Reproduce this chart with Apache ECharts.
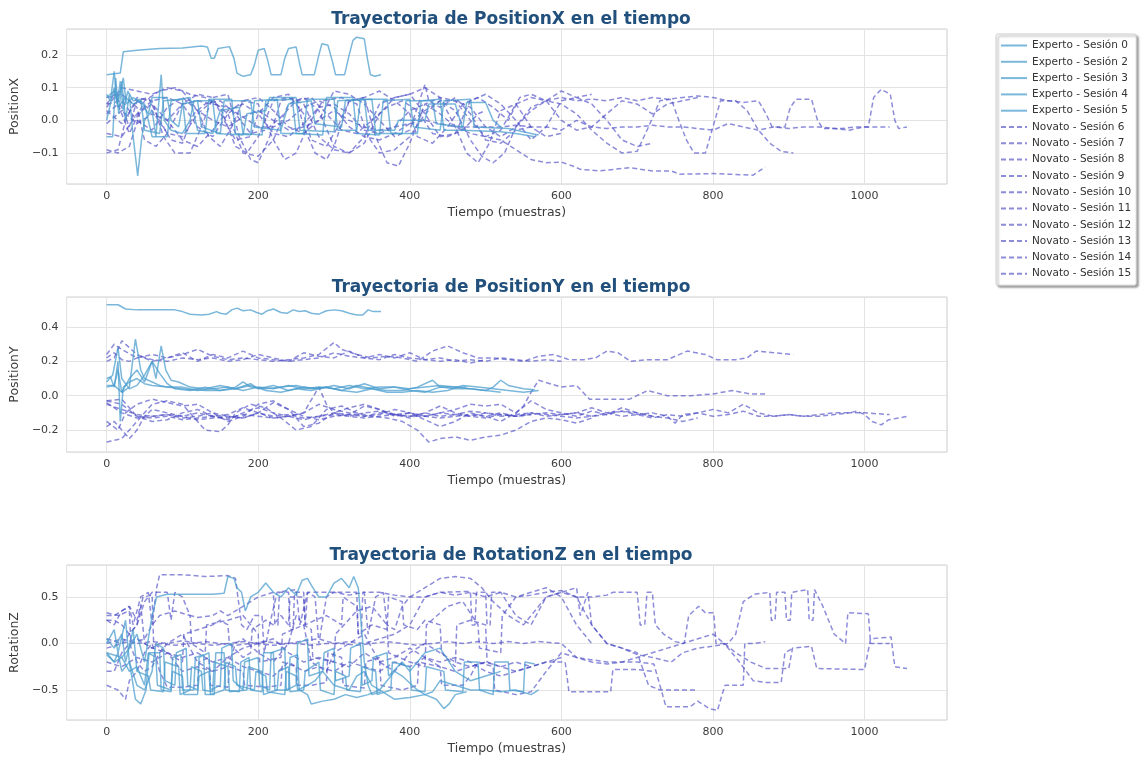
<!DOCTYPE html>
<html><head><meta charset="utf-8">
<script src="https://cdn.jsdelivr.net/npm/echarts@6/dist/echarts.min.js"></script>
<style>html,body{margin:0;padding:0;background:#fff}#c{width:1141px;height:761px}</style>
</head><body><div id="c"></div>
<script>
// ---------- labels ----------
const sessionNames = ['Experto - Sesión 0','Experto - Sesión 2','Experto - Sesión 3','Experto - Sesión 4','Experto - Sesión 5',
 'Novato - Sesión 6','Novato - Sesión 7','Novato - Sesión 8','Novato - Sesión 9','Novato - Sesión 10',
 'Novato - Sesión 11','Novato - Sesión 12','Novato - Sesión 13','Novato - Sesión 14','Novato - Sesión 15'];
const metricNames = ['PositionX','PositionY','RotationZ'];
const xTickLabels = [0,200,400,600,800,1000];

// ---------- PositionX ----------
const px_E0=[[0,0.14],[18,0.145],[22,0.21],[40,0.215],[70,0.22],[100,0.222],[125,0.228],[133,0.225],[138,0.19],[142,0.19],[147,0.22],[162,0.226],[168,0.19],[172,0.145],[180,0.135],[190,0.14],[195,0.17],[200,0.215],[208,0.22],[213,0.18],[217,0.14],[230,0.14],[235,0.19],[240,0.22],[250,0.225],[255,0.17],[258,0.14],[274,0.14],[280,0.2],[284,0.235],[292,0.23],[298,0.18],[302,0.14],[314,0.14],[320,0.2],[325,0.245],[330,0.255],[340,0.25],[344,0.19],[348,0.14],[354,0.135],[362,0.14]];
const px_E2=[[0,0.08],[5,0.06],[10,0.15],[14,0.05],[18,0.12],[22,0.03],[28,0.09],[35,0.06],[45,0.065],[50,-0.03],[70,-0.04],[75,0.06],[100,0.065],[105,-0.04],[130,-0.04],[135,0.065],[165,0.065],[170,-0.04],[190,-0.045],[195,0.06],[225,0.065],[230,-0.04],[260,-0.04],[265,0.065],[300,0.065],[305,-0.03],[330,-0.03],[335,0.065],[370,0.065],[375,-0.04],[410,-0.04],[415,0.06],[440,0.065],[445,-0.03],[475,-0.03]];
const px_E3=[[0,-0.05],[8,-0.05],[12,0.13],[16,0.02],[20,0.12],[25,0.0],[30,0.08],[35,-0.05],[41,-0.17],[46,-0.06],[50,0.0],[60,0.03],[65,-0.05],[72,0.14],[76,0.0],[85,-0.03],[100,-0.04],[110,0.0],[115,0.06],[140,0.06],[145,-0.04],[180,-0.045],[185,0.02],[210,0.03],[215,0.07],[250,0.07],[255,-0.03],[300,-0.035],[305,0.06],[340,0.065],[345,-0.03],[380,-0.03],[385,0.0],[420,0.0],[425,0.05],[460,0.05],[470,-0.03],[520,-0.035],[540,-0.04],[565,-0.05]];
const px_E4=[[0,0.0],[10,0.1],[15,0.04],[25,0.07],[35,0.05],[45,0.06],[55,0.02],[60,0.07],[80,0.07],[85,0.0],[95,-0.02],[100,0.05],[120,0.06],[125,-0.02],[150,-0.04],[155,0.06],[190,0.06],[195,-0.02],[230,-0.03],[240,0.05],[270,0.06],[275,-0.01],[310,-0.02],[315,0.06],[350,0.065],[355,-0.04],[390,-0.04],[395,0.06],[430,0.06],[435,-0.01],[470,-0.02],[475,0.055],[500,0.055],[510,0.0],[520,-0.02]];
const px_E5=[[0,0.07],[10,0.09],[15,0.06],[22,0.13],[26,0.05],[35,0.07],[50,0.05],[60,-0.05],[80,-0.05],[85,0.06],[110,0.07],[120,-0.03],[140,-0.04],[150,0.03],[175,0.04],[180,-0.04],[205,-0.045],[210,0.06],[245,0.065],[250,-0.04],[285,-0.045],[290,0.07],[325,0.07],[330,-0.04],[360,-0.045],[365,0.06],[400,0.065],[405,-0.02],[440,-0.03],[445,0.06],[480,0.065],[485,-0.02],[530,-0.025],[560,-0.04],[570,-0.045]];
const px_N6=[[0,0.02],[15,0.05],[30,-0.04],[50,0.06],[70,0.09],[90,0.1],[110,0.08],[130,0.07],[150,0.04],[170,-0.08],[185,-0.1],[200,-0.05],[220,0.06],[240,0.07],[260,0.05],[280,-0.05],[300,-0.09],[320,-0.1],[340,-0.07],[360,0.02],[380,0.07],[400,0.08],[420,0.1],[440,0.07],[460,0.06],[480,0.04],[500,-0.02],[520,-0.05],[540,-0.02],[560,0.03],[580,0.06],[600,0.07],[620,0.06],[640,0.065],[660,0.06],[680,0.07],[700,0.06],[720,0.07],[740,0.065],[760,0.07],[780,0.075],[800,0.07],[820,0.06],[840,0.055],[860,0.06],[870,0.02],[878,-0.02],[895,-0.02],[902,0.04],[910,0.065],[930,0.065],[938,0.0],[945,-0.025],[970,-0.025],[990,-0.02],[1005,-0.02],[1012,0.07],[1022,0.095],[1034,0.08],[1040,0.0],[1045,-0.025],[1056,-0.02]];
const px_N7=[[0,-0.09],[15,-0.1],[30,-0.08],[45,0.03],[60,0.06],[80,0.07],[100,0.05],[120,-0.02],[140,-0.05],[160,0.02],[180,0.06],[200,0.05],[220,-0.06],[235,-0.12],[250,-0.1],[265,-0.02],[285,0.06],[310,0.07],[330,0.05],[345,-0.05],[360,-0.1],[380,-0.09],[400,-0.05],[420,0.02],[440,0.06],[460,0.03],[480,-0.06],[495,-0.11],[510,-0.13],[525,-0.1],[540,-0.02],[560,0.04],[580,0.06],[600,0.05],[620,0.02],[640,-0.03],[660,-0.07],[680,-0.1],[700,-0.095],[715,-0.02],[730,0.06],[745,0.065],[755,0.0],[765,-0.06],[775,-0.1],[790,-0.1],[800,-0.02],[810,0.06],[830,0.06],[845,0.03],[860,-0.03],[875,-0.07],[890,-0.095],[906,-0.1]];
const px_N8=[[0,-0.04],[20,-0.05],[40,0.02],[60,0.05],[80,0.0],[100,-0.06],[120,-0.08],[140,-0.03],[160,0.03],[180,0.05],[200,0.02],[220,-0.04],[240,-0.05],[260,-0.01],[280,0.04],[300,0.05],[320,0.02],[340,-0.03],[360,-0.04],[380,-0.02],[400,0.03],[420,0.05],[440,0.02],[460,-0.02],[480,-0.04],[500,-0.05],[520,-0.06],[540,-0.09],[560,-0.12],[580,-0.13],[600,-0.128],[615,-0.14],[625,-0.15],[650,-0.155],[690,-0.145],[720,-0.155],[745,-0.155],[756,-0.165],[800,-0.163],[853,-0.168],[869,-0.143]];
const px_N9=[[0,0.05],[20,0.06],[40,0.0],[60,-0.03],[80,0.04],[100,0.07],[120,0.03],[140,0.0],[160,-0.02],[180,0.01],[200,0.03],[220,0.0],[240,-0.03],[260,-0.02],[280,0.0],[300,0.03],[320,0.0],[340,-0.02],[360,-0.03],[380,-0.02],[400,-0.01],[420,0.0],[440,-0.01],[460,-0.02],[480,-0.02],[500,-0.02],[520,-0.02],[540,-0.015],[560,-0.02],[580,-0.02],[600,-0.03],[620,0.0],[640,-0.02],[660,-0.025],[680,-0.02],[700,-0.02],[720,-0.015],[740,-0.02],[760,-0.02],[780,-0.025],[800,-0.03],[820,-0.01],[840,-0.02],[860,-0.03],[880,-0.02],[900,-0.025],[920,-0.02],[940,-0.02],[960,-0.025],[980,-0.03],[1000,-0.02],[1033,-0.02]];
const px_N10=[[0,0.07],[20,0.08],[40,0.04],[50,-0.06],[65,-0.08],[80,-0.04],[100,0.05],[120,0.08],[140,0.07],[155,0.0],[170,-0.06],[190,-0.05],[200,0.02],[220,0.07],[240,0.08],[260,0.02],[270,-0.06],[290,-0.08],[305,-0.02],[320,0.06],[340,0.07],[360,0.09],[380,0.06],[400,0.02],[410,-0.05],[430,-0.07],[450,-0.02],[470,0.05],[490,0.07],[510,0.04],[530,0.0],[545,0.07],[560,0.08],[580,0.06],[600,0.09],[620,0.07],[640,0.08]];
const px_N11=[[0,-0.1],[15,-0.09],[25,0.0],[40,0.07],[60,0.06],[75,-0.05],[90,-0.1],[110,-0.1],[125,-0.02],[140,0.07],[160,0.08],[175,-0.05],[190,-0.12],[200,-0.13],[215,-0.05],[230,0.06],[250,0.07],[260,-0.02],[275,-0.1],[290,-0.12],[300,-0.08],[320,0.06],[340,0.07],[355,-0.05],[370,-0.13],[385,-0.14],[400,-0.07],[420,0.05],[440,0.07],[460,-0.02],[475,-0.1],[490,-0.13],[505,-0.07],[520,0.03],[540,0.05],[560,-0.02],[580,-0.05],[600,-0.04]];
const px_N12=[[0,0.04],[20,0.1],[40,0.09],[60,0.08],[80,0.1],[100,0.09],[120,0.03],[135,-0.05],[150,-0.08],[165,-0.02],[180,0.06],[200,0.07],[220,0.03],[240,-0.02],[260,-0.04],[280,0.0],[300,0.09],[320,0.08],[340,0.05],[360,0.0],[380,-0.05],[400,-0.03],[420,0.11],[425,0.06],[440,0.04],[460,0.07],[480,0.02],[500,-0.06],[520,-0.07],[540,-0.03],[560,-0.02]];
const px_N13=[[0,0.03],[20,-0.01],[40,0.06],[60,0.03],[80,-0.04],[100,-0.05],[120,0.02],[140,0.06],[160,0.02],[180,-0.1],[200,-0.11],[220,-0.06],[240,0.05],[260,0.07],[280,0.03],[300,-0.08],[320,-0.1],[340,-0.05],[360,0.05],[380,0.07],[400,0.08],[420,0.02],[440,-0.05],[460,-0.04],[480,0.06],[500,0.08],[520,0.05],[540,0.0],[560,-0.06],[580,-0.02],[600,0.06],[620,0.07],[640,0.05],[660,0.0],[680,-0.06],[700,-0.08],[720,-0.07]];
const px_N14=[[0,-0.01],[20,0.03],[40,-0.01],[60,0.02],[80,0.0],[100,0.05],[120,0.06],[140,0.05],[160,0.04],[180,0.01],[200,-0.02],[220,-0.02],[240,0.0],[260,0.04],[280,0.06],[300,0.04],[320,-0.02],[340,-0.05],[360,-0.06],[380,-0.04],[400,-0.01],[420,0.03],[440,0.06],[460,0.06],[480,0.0],[500,-0.05],[520,-0.03],[540,0.05],[560,0.07],[580,0.06],[600,0.0],[620,-0.03],[640,-0.02],[660,0.02],[680,0.06],[700,0.05],[720,0.02],[740,0.05],[760,0.06],[780,0.07]];
const px_N15=[[0,0.05],[10,0.08],[20,0.04],[30,-0.02],[40,0.06],[55,0.07],[70,0.0],[85,-0.06],[100,-0.07],[115,0.02],[130,0.05],[150,0.06],[170,0.02],[190,-0.04],[210,-0.03],[230,0.01],[250,0.06],[270,0.07],[290,0.02],[310,-0.03],[330,-0.04],[350,0.0],[370,0.04],[390,0.06],[410,0.03],[430,-0.04],[450,-0.05],[470,-0.03],[490,0.02],[500,0.03]];

// ---------- PositionY ----------
const py_E0=[[0,0.53],[15,0.53],[25,0.505],[40,0.5],[90,0.5],[100,0.49],[110,0.475],[125,0.47],[135,0.475],[145,0.49],[150,0.48],[158,0.475],[165,0.5],[172,0.51],[180,0.495],[190,0.5],[198,0.485],[205,0.475],[212,0.495],[220,0.505],[230,0.485],[238,0.48],[246,0.5],[254,0.49],[262,0.495],[270,0.48],[280,0.475],[290,0.495],[300,0.5],[310,0.495],[320,0.48],[330,0.47],[338,0.47],[345,0.5],[352,0.49],[362,0.49]];
const py_E2=[[0,0.1],[5,0.11],[10,0.05],[15,0.2],[18,-0.15],[22,0.05],[30,0.08],[40,0.1],[50,0.07],[60,0.06],[80,0.05],[100,0.04],[120,0.03],[140,0.04],[160,0.05],[180,0.03],[200,0.05],[220,0.04],[240,0.06],[260,0.04],[280,0.05],[300,0.04],[320,0.06],[340,0.04],[360,0.05],[380,0.05],[400,0.04],[420,0.05],[440,0.06],[460,0.05],[475,0.05]];
const py_E3=[[0,0.06],[10,0.06],[15,0.15],[20,0.02],[30,0.05],[38,0.33],[45,0.15],[50,0.1],[60,0.08],[70,0.06],[80,0.05],[100,0.05],[110,0.04],[130,0.03],[150,0.03],[170,0.05],[180,0.08],[190,0.05],[210,0.04],[230,0.05],[250,0.06],[270,0.04],[290,0.05],[310,0.03],[330,0.06],[350,0.04],[370,0.03],[390,0.03],[410,0.05],[430,0.09],[440,0.05],[460,0.05],[480,0.04],[500,0.03],[510,0.05],[520,0.09],[530,0.06],[550,0.04],[565,0.035]];
const py_E4=[[0,0.08],[8,0.12],[15,0.28],[20,0.1],[30,0.04],[40,0.06],[50,0.12],[60,0.2],[65,0.1],[72,0.29],[78,0.15],[85,0.09],[95,0.08],[110,0.05],[130,0.04],[150,0.06],[170,0.04],[190,0.07],[200,0.04],[220,0.06],[240,0.03],[260,0.05],[280,0.04],[300,0.06],[320,0.04],[340,0.07],[360,0.04],[380,0.05],[400,0.03],[420,0.02],[440,0.05],[460,0.04],[480,0.04],[500,0.03],[520,0.02]];
const py_E5=[[0,0.05],[10,0.06],[20,0.02],[30,0.1],[40,0.15],[50,0.08],[60,0.2],[70,0.13],[80,0.07],[90,0.04],[110,0.03],[130,0.05],[150,0.03],[170,0.04],[190,0.06],[210,0.03],[230,0.02],[250,0.04],[270,0.03],[290,0.05],[310,0.03],[330,0.02],[350,0.04],[370,0.02],[390,0.02],[410,0.03],[430,0.02],[450,0.03],[470,0.06],[490,0.05],[510,0.04],[530,0.03],[550,0.02],[570,0.03]];
const py_N6=[[0,-0.04],[20,-0.1],[40,-0.13],[60,-0.12],[80,-0.11],[100,-0.13],[120,-0.12],[140,-0.1],[160,-0.12],[180,-0.13],[200,-0.1],[220,-0.12],[240,-0.11],[260,-0.13],[280,-0.12],[300,-0.1],[320,-0.11],[340,-0.12],[360,-0.1],[380,-0.11],[400,-0.12],[420,-0.1],[440,-0.12],[460,-0.11],[480,-0.12],[500,-0.1],[520,-0.11],[540,-0.12],[560,-0.1],[580,-0.11],[600,-0.12],[620,-0.13],[640,-0.12],[660,-0.1],[680,-0.12],[700,-0.11],[720,-0.13],[740,-0.11],[760,-0.12],[780,-0.1],[800,-0.12],[820,-0.11],[840,-0.09],[860,-0.12],[880,-0.12],[900,-0.11],[920,-0.12],[940,-0.11],[960,-0.1],[980,-0.1],[990,-0.09],[1000,-0.11],[1010,-0.15],[1022,-0.17],[1032,-0.14],[1045,-0.13],[1056,-0.12]];
const py_N7=[[0,0.24],[10,0.3],[20,0.27],[40,0.22],[60,0.24],[80,0.22],[100,0.24],[120,0.27],[140,0.23],[160,0.21],[180,0.22],[200,0.21],[220,0.2],[240,0.21],[260,0.22],[280,0.24],[300,0.31],[310,0.27],[330,0.24],[350,0.22],[370,0.23],[390,0.22],[410,0.2],[430,0.26],[450,0.29],[470,0.25],[490,0.22],[510,0.22],[530,0.21],[550,0.2],[570,0.23],[590,0.24],[610,0.21],[630,0.21],[645,0.22],[660,0.26],[675,0.25],[691,0.2],[714,0.21],[740,0.21],[766,0.26],[790,0.24],[805,0.21],[830,0.21],[845,0.22],[857,0.26],[880,0.25],[906,0.24]];
const py_N8=[[0,-0.03],[20,-0.05],[40,-0.12],[60,-0.15],[80,-0.14],[100,-0.1],[120,-0.08],[140,-0.12],[160,-0.14],[180,-0.1],[200,-0.07],[220,-0.1],[240,-0.12],[260,-0.1],[280,-0.05],[300,-0.08],[320,-0.1],[340,-0.12],[360,-0.11],[380,-0.08],[400,-0.1],[420,-0.12],[440,-0.1],[460,-0.08],[480,-0.05],[500,-0.06],[520,-0.05],[540,-0.1],[550,-0.06],[560,0.02],[570,0.09],[585,0.07],[600,0.05],[620,0.06],[637,-0.02],[660,-0.02],[690,-0.02],[714,0.03],[740,0.0],[770,0.0],[800,0.01],[825,0.03],[850,0.01],[869,0.01]];
const py_N9=[[0,-0.03],[20,-0.02],[40,-0.12],[60,-0.13],[80,-0.12],[100,-0.14],[120,-0.13],[140,-0.12],[160,-0.13],[180,-0.11],[200,-0.12],[220,-0.13],[240,-0.12],[260,-0.14],[280,-0.12],[300,-0.11],[320,-0.12],[340,-0.13],[360,-0.12],[380,-0.11],[400,-0.12],[420,-0.12],[440,-0.13],[460,-0.12],[480,-0.11],[500,-0.12],[520,-0.1],[540,-0.12],[560,-0.11],[580,-0.1],[600,-0.11],[620,-0.1],[640,-0.07],[660,-0.1],[680,-0.09],[700,-0.11],[720,-0.1],[740,-0.12],[750,-0.16],[760,-0.11],[780,-0.1],[800,-0.08],[820,-0.1],[840,-0.05],[860,-0.1],[880,-0.12],[900,-0.11],[920,-0.12],[940,-0.12],[960,-0.11],[980,-0.1],[1000,-0.1],[1033,-0.11]];
const py_N10=[[0,-0.27],[20,-0.25],[30,-0.2],[40,-0.15],[50,-0.1],[60,-0.05],[80,-0.03],[100,-0.05],[120,-0.15],[130,-0.2],[150,-0.21],[160,-0.17],[170,-0.1],[190,-0.05],[210,-0.07],[230,-0.13],[250,-0.2],[270,-0.18],[290,-0.08],[310,-0.06],[330,-0.1],[350,-0.12],[370,-0.13],[390,-0.15],[410,-0.2],[425,-0.27],[440,-0.25],[460,-0.24],[480,-0.26],[500,-0.24],[520,-0.23],[540,-0.2],[560,-0.15],[580,-0.13],[600,-0.14],[620,-0.16],[640,-0.13]];
const py_N11=[[0,0.2],[10,0.22],[20,0.32],[30,0.28],[40,0.24],[50,0.22],[60,0.2],[80,0.22],[100,0.25],[120,0.2],[140,0.24],[160,0.22],[180,0.26],[200,0.22],[220,0.21],[240,0.2],[260,0.25],[280,0.23],[300,0.22],[320,0.26],[340,0.22],[360,0.24],[380,0.22],[400,0.25],[420,0.21],[440,0.22],[460,0.2],[480,0.21],[500,0.2],[520,0.22],[540,0.21],[560,0.2],[580,0.21],[600,0.2]];
const py_N12=[[0,-0.18],[10,-0.15],[20,-0.2],[30,-0.25],[40,-0.2],[50,-0.12],[60,-0.08],[80,-0.1],[100,-0.12],[120,-0.14],[140,-0.13],[160,-0.12],[180,-0.13],[200,-0.1],[220,-0.04],[240,-0.08],[260,-0.12],[280,-0.14],[300,-0.12],[320,-0.11],[340,-0.06],[360,-0.08],[380,-0.11],[400,-0.13],[420,-0.1],[440,-0.06],[460,-0.1],[480,-0.12],[500,-0.13],[520,-0.11],[540,-0.12],[560,-0.11]];
const py_N13=[[0,-0.15],[15,-0.2],[25,-0.1],[40,-0.05],[60,-0.02],[80,-0.04],[100,-0.06],[120,-0.05],[140,-0.1],[160,-0.15],[180,-0.12],[200,-0.05],[220,-0.03],[240,-0.08],[260,-0.18],[280,-0.16],[300,-0.1],[320,-0.07],[340,-0.05],[360,-0.08],[380,-0.12],[400,-0.1],[420,-0.14],[440,-0.18],[460,-0.15],[480,-0.1],[500,-0.12],[520,-0.15],[540,-0.1],[560,-0.03],[580,-0.08],[600,-0.1],[620,-0.12],[640,-0.09],[660,-0.11],[680,-0.07],[700,-0.1],[720,-0.12]];
const py_N14=[[0,-0.05],[20,-0.08],[40,-0.11],[60,-0.12],[80,-0.11],[100,-0.12],[120,-0.1],[140,-0.12],[160,-0.11],[180,-0.07],[200,-0.1],[220,-0.13],[240,-0.12],[260,-0.1],[280,0.05],[290,-0.05],[300,-0.1],[320,-0.12],[340,-0.1],[360,-0.09],[380,-0.11],[400,-0.1],[420,-0.12],[440,-0.1],[460,-0.11],[480,-0.09],[500,-0.1],[520,-0.12],[540,-0.11],[560,-0.1],[580,-0.12],[600,-0.11],[620,-0.1],[640,-0.12],[660,-0.11],[680,-0.09],[700,-0.1],[720,-0.12],[740,-0.13],[760,-0.15],[780,-0.13]];
const py_N15=[[0,0.22],[10,0.25],[20,0.21],[30,0.2],[45,0.23],[60,0.21],[80,0.2],[100,0.22],[120,0.21],[140,0.22],[160,0.2],[180,0.21],[200,0.24],[220,0.22],[240,0.2],[260,0.21],[280,0.22],[300,0.25],[320,0.23],[340,0.22],[360,0.21],[380,0.24],[400,0.22],[420,0.21],[440,0.2],[460,0.21],[480,0.19],[500,0.21]];

// ---------- RotationZ ----------
const rz_E0=[[0,-0.1],[20,-0.15],[30,-0.05],[40,0.1],[50,-0.2],[60,0.3],[66,0.5],[80,0.53],[100,0.53],[120,0.53],[140,0.53],[155,0.54],[160,0.72],[168,0.7],[172,0.6],[178,0.55],[183,0.35],[190,0.5],[200,0.55],[210,0.65],[220,0.55],[230,0.5],[240,0.6],[250,0.52],[258,0.68],[265,0.7],[272,0.6],[280,0.5],[290,0.5],[300,0.65],[310,0.7],[320,0.6],[326,0.72],[332,0.6],[336,0.2],[340,-0.2],[345,-0.45],[350,-0.55],[362,-0.52]];
const rz_E2=[[0,-0.1],[10,-0.2],[15,-0.1],[20,-0.3],[30,-0.2],[38,-0.6],[45,-0.65],[52,-0.5],[56,-0.1],[70,-0.1],[72,-0.5],[85,-0.52],[87,-0.15],[98,-0.12],[100,-0.5],[115,-0.5],[117,-0.15],[128,-0.12],[130,-0.55],[142,-0.55],[144,-0.1],[155,-0.1],[157,-0.5],[175,-0.52],[177,-0.2],[188,-0.15],[190,-0.5],[205,-0.52],[207,-0.1],[220,-0.1],[222,-0.5],[240,-0.5],[242,-0.15],[252,-0.12],[254,-0.5],[265,-0.55],[270,-0.65],[285,-0.62],[300,-0.6],[315,-0.55],[330,-0.58],[345,-0.55],[360,-0.5],[380,-0.6],[400,-0.58],[420,-0.55],[435,-0.6],[445,-0.7],[452,-0.65],[460,-0.55],[475,-0.52]];
const rz_E3=[[0,0.05],[10,-0.05],[20,0.1],[25,-0.2],[35,0.15],[40,-0.3],[55,-0.35],[58,-0.5],[75,-0.52],[77,-0.2],[95,-0.25],[97,-0.55],[110,-0.5],[112,-0.25],[125,-0.3],[127,-0.5],[140,-0.52],[142,-0.2],[160,-0.25],[162,-0.52],[185,-0.5],[187,-0.25],[205,-0.3],[207,-0.55],[225,-0.5],[227,-0.3],[240,-0.25],[242,-0.52],[260,-0.5],[262,-0.3],[280,-0.2],[282,-0.5],[300,-0.55],[302,-0.3],[315,-0.35],[317,-0.5],[335,-0.52],[337,-0.25],[355,-0.3],[357,-0.55],[375,-0.5],[377,-0.2],[400,-0.25],[402,-0.5],[420,-0.52],[422,-0.25],[445,-0.3],[447,-0.5],[470,-0.52],[472,-0.2],[490,-0.2],[492,-0.5],[510,-0.55],[512,-0.2],[530,-0.2],[532,-0.5],[550,-0.52],[552,-0.2],[565,-0.22]];
const rz_E4=[[0,0.0],[10,0.15],[15,-0.1],[25,0.25],[30,-0.2],[40,-0.45],[50,-0.5],[60,-0.3],[65,0.0],[75,-0.05],[77,-0.4],[90,-0.45],[92,-0.1],[105,-0.05],[107,-0.45],[120,-0.5],[122,-0.15],[135,-0.1],[137,-0.5],[150,-0.45],[152,-0.05],[165,0.0],[167,-0.4],[180,-0.5],[182,-0.2],[200,-0.15],[202,-0.45],[215,-0.5],[217,-0.1],[235,-0.05],[237,-0.5],[250,-0.45],[252,0.0],[265,0.05],[267,-0.35],[285,-0.3],[287,-0.1],[300,-0.05],[302,-0.4],[320,-0.35],[322,-0.05],[335,0.0],[337,-0.45],[350,-0.4],[352,-0.15],[370,-0.1],[372,-0.35],[390,-0.2],[400,-0.3],[420,-0.1],[440,-0.05],[460,-0.3],[480,-0.4],[500,-0.35],[520,-0.3]];
const rz_E5=[[0,-0.12],[10,-0.2],[20,-0.15],[30,-0.3],[40,-0.25],[50,-0.45],[55,-0.1],[65,-0.15],[67,-0.45],[85,-0.5],[87,-0.3],[100,-0.35],[102,-0.55],[120,-0.55],[122,-0.35],[135,-0.3],[137,-0.55],[155,-0.5],[157,-0.2],[170,-0.25],[172,-0.45],[195,-0.5],[197,-0.3],[210,-0.35],[212,-0.52],[235,-0.55],[237,-0.3],[250,-0.35],[252,-0.5],[265,-0.45],[275,-0.4],[285,-0.3],[300,-0.45],[320,-0.5],[330,-0.35],[340,-0.3],[350,-0.45],[360,-0.5],[370,-0.4],[380,-0.3],[390,-0.35],[410,-0.5],[420,-0.55],[430,-0.52],[440,-0.4],[460,-0.45],[480,-0.5],[500,-0.5],[520,-0.52],[540,-0.5],[560,-0.55],[570,-0.5]];
const rz_N6=[[0,0.3],[10,0.3],[20,0.35],[30,0.4],[40,0.25],[45,0.42],[50,0.0],[60,-0.05],[70,0.0],[90,-0.02],[110,0.0],[130,0.02],[150,0.0],[170,-0.02],[190,0.0],[210,0.02],[230,0.0],[250,0.0],[270,-0.02],[290,0.0],[310,0.0],[330,-0.02],[350,0.0],[370,0.02],[390,0.0],[410,-0.02],[430,0.0],[450,0.02],[470,0.0],[490,0.02],[510,0.0],[530,0.02],[550,0.0],[570,0.02],[600,0.0],[620,-0.15],[640,-0.2],[660,-0.22],[680,-0.2],[700,-0.15],[720,-0.1],[740,-0.05],[760,0.0],[780,0.05],[800,0.1],[815,0.0],[830,-0.1],[850,-0.2],[870,-0.27],[900,-0.27],[905,-0.05],[930,-0.03],[937,-0.27],[1000,-0.28],[1008,0.05],[1035,0.07],[1040,-0.25],[1056,-0.27]];
const rz_N7=[[0,0.25],[10,0.2],[20,0.35],[30,0.4],[35,0.2],[45,0.5],[55,0.55],[60,0.2],[66,0.6],[70,0.74],[100,0.74],[130,0.72],[160,0.73],[170,0.7],[178,0.2],[185,0.15],[195,0.3],[205,0.3],[208,-0.1],[215,0.2],[225,0.55],[250,0.58],[255,0.2],[265,0.55],[275,0.5],[280,0.0],[290,0.5],[300,0.55],[320,0.52],[340,0.55],[345,0.1],[355,0.5],[365,0.55],[370,0.2],[380,0.15],[390,0.4],[400,0.5],[420,0.6],[430,0.65],[440,0.7],[460,0.72],[480,0.7],[495,0.6],[510,0.45],[530,0.3],[550,0.2],[570,0.4],[580,0.5],[600,0.55],[620,0.5],[640,0.5],[660,0.52],[668,0.55],[700,0.55],[704,0.2],[710,0.2],[713,0.55],[720,0.55],[724,0.2],[735,0.1],[750,0.02],[762,0.0],[768,0.3],[781,0.4],[790,0.33],[801,0.33],[804,0.0],[815,0.0],[835,-0.2],[853,-0.4],[870,-0.42],[890,-0.42],[895,-0.1],[906,-0.05]];
const rz_N8=[[0,-0.45],[15,-0.5],[25,-0.6],[30,-0.4],[40,-0.3],[50,-0.1],[60,0.0],[70,-0.3],[80,-0.47],[100,-0.47],[120,-0.45],[122,-0.2],[135,-0.15],[137,-0.45],[160,-0.47],[162,-0.25],[180,-0.3],[182,-0.45],[210,-0.47],[230,-0.45],[232,-0.2],[250,-0.25],[252,-0.45],[270,-0.45],[290,-0.42],[292,-0.1],[310,-0.15],[312,-0.45],[340,-0.48],[342,-0.2],[360,-0.15],[362,-0.45],[390,-0.5],[410,-0.45],[412,-0.2],[440,-0.25],[442,-0.45],[470,-0.45],[480,-0.35],[490,-0.2],[510,-0.25],[512,-0.5],[540,-0.55],[560,-0.52],[580,-0.3],[600,-0.1],[620,-0.15],[660,-0.2],[700,-0.2],[722,-0.22],[730,-0.45],[738,-0.68],[770,-0.68],[780,-0.62],[795,-0.7],[806,-0.72],[812,-0.55],[816,-0.45],[840,-0.45],[842,0.0],[855,0.0],[869,0.02]];
const rz_N9=[[0,-0.05],[20,0.0],[40,0.2],[50,0.45],[60,0.55],[80,0.55],[85,0.25],[90,0.55],[100,0.5],[110,0.3],[120,0.28],[140,0.3],[150,0.35],[160,0.3],[180,0.4],[200,0.5],[220,0.55],[222,0.2],[226,0.2],[228,0.55],[240,0.55],[242,0.15],[246,0.15],[248,0.55],[260,0.55],[262,0.2],[265,0.55],[300,0.55],[330,0.55],[332,0.1],[336,0.1],[338,0.55],[360,0.55],[380,0.52],[400,0.5],[420,0.5],[440,0.55],[480,0.56],[482,0.2],[486,0.2],[488,0.55],[500,0.55],[502,0.2],[506,0.2],[508,0.55],[520,0.55],[540,0.3],[560,0.2],[580,0.5],[600,0.55],[620,0.6],[625,0.3],[635,0.55],[640,0.2],[650,0.1],[660,0.0],[680,-0.05],[700,-0.12],[720,-0.15],[745,-0.2],[760,-0.1],[780,-0.05],[800,-0.03],[820,0.0],[830,0.1],[840,0.45],[855,0.53],[875,0.55],[877,0.25],[882,0.25],[884,0.55],[895,0.55],[897,0.25],[902,0.25],[904,0.55],[925,0.58],[927,0.25],[932,0.25],[934,0.58],[945,0.4],[960,0.1],[975,0.0],[978,0.33],[1005,0.32],[1008,0.0],[1033,0.0]];
const rz_N10=[[0,0.33],[15,0.3],[30,0.35],[32,0.0],[50,0.05],[60,0.2],[70,0.3],[90,0.35],[110,0.3],[112,0.0],[130,-0.1],[132,0.2],[160,0.25],[180,0.3],[200,0.1],[202,-0.2],[230,-0.15],[232,0.1],[260,0.2],[270,0.15],[272,-0.15],[300,-0.2],[302,0.1],[330,0.35],[350,0.4],[370,0.2],[372,-0.1],[400,-0.2],[420,-0.25],[422,0.2],[450,0.4],[470,0.45],[490,0.2],[492,-0.05],[520,-0.1],[522,0.3],[540,0.5],[560,0.55],[580,0.6],[600,0.5],[620,0.2],[640,0.0]];
const rz_N11=[[0,0.05],[20,0.0],[40,0.05],[60,-0.05],[80,-0.1],[100,-0.15],[120,-0.1],[140,-0.2],[160,-0.15],[180,-0.05],[200,0.0],[220,0.05],[240,-0.1],[260,-0.2],[280,-0.15],[300,-0.2],[320,-0.25],[340,-0.1],[360,-0.2],[380,-0.15],[400,-0.05],[420,-0.15],[440,-0.2],[460,-0.15],[480,-0.2],[500,-0.3],[520,-0.35],[540,-0.3],[560,-0.25],[580,-0.2],[600,-0.15]];
const rz_N12=[[0,0.25],[10,0.25],[20,0.2],[30,0.1],[40,0.2],[48,0.5],[60,0.52],[62,0.0],[80,-0.1],[100,-0.2],[102,0.1],[140,0.2],[150,0.25],[160,0.2],[162,0.0],[180,-0.15],[190,-0.1],[192,0.15],[210,0.25],[220,0.2],[230,0.3],[240,0.2],[242,0.5],[260,0.5],[262,0.2],[275,0.25],[290,0.3],[300,0.25],[310,0.2],[312,0.5],[330,0.4],[332,0.1],[350,0.2],[370,0.15],[372,0.5],[390,0.45],[392,0.2],[410,0.15],[420,0.25],[440,0.2],[442,-0.1],[460,-0.25],[462,0.2],[480,0.25],[500,0.2],[502,-0.2],[520,-0.25],[540,-0.2],[560,-0.25]];
const rz_N13=[[0,-0.2],[20,-0.25],[40,-0.15],[60,-0.2],[80,-0.1],[100,-0.3],[120,-0.25],[140,-0.3],[160,-0.15],[180,-0.25],[200,-0.3],[220,-0.35],[240,-0.2],[260,-0.3],[280,-0.25],[300,-0.3],[320,-0.2],[340,-0.25],[360,-0.3],[380,-0.2],[400,-0.25],[420,-0.15],[440,-0.25],[460,-0.3],[480,-0.25],[500,-0.2],[520,-0.25],[540,-0.3],[560,-0.25],[580,-0.2],[605,-0.2],[610,-0.52],[665,-0.52],[668,-0.28],[700,-0.28],[720,-0.3]];
const rz_N14=[[0,0.0],[20,0.05],[40,0.0],[60,0.02],[80,0.0],[100,0.03],[120,0.0],[140,-0.02],[160,0.0],[180,0.02],[200,0.0],[220,-0.02],[240,0.0],[260,0.03],[280,0.05],[300,0.0],[320,0.02],[340,0.0],[360,0.05],[380,0.1],[400,0.2],[410,0.35],[420,0.5],[440,0.55],[460,0.52],[480,0.55],[500,0.5],[520,0.55],[540,0.5],[560,0.52],[580,0.55],[600,0.57],[620,0.5],[640,0.2],[660,0.0],[680,-0.05],[700,-0.1],[715,-0.45],[730,-0.5],[760,-0.5],[780,-0.5]];
const rz_N15=[[0,-0.3],[10,-0.3],[20,-0.1],[30,0.0],[40,-0.2],[50,-0.3],[60,-0.25],[70,-0.1],[80,0.0],[100,0.1],[120,-0.2],[140,-0.3],[160,-0.25],[170,0.0],[180,0.05],[200,-0.1],[220,-0.2],[240,0.0],[250,0.3],[260,0.2],[270,-0.2],[290,-0.3],[300,-0.1],[320,0.0],[340,0.1],[360,-0.2],[380,-0.3],[400,-0.1],[420,0.0],[440,-0.1],[460,-0.2],[480,-0.25],[500,-0.2]];

const posXData=[px_E0,px_E2,px_E3,px_E4,px_E5,px_N6,px_N7,px_N8,px_N9,px_N10,px_N11,px_N12,px_N13,px_N14,px_N15];
const posYData=[py_E0,py_E2,py_E3,py_E4,py_E5,py_N6,py_N7,py_N8,py_N9,py_N10,py_N11,py_N12,py_N13,py_N14,py_N15];
const rotZData=[rz_E0,rz_E2,rz_E3,rz_E4,rz_E5,rz_N6,rz_N7,rz_N8,rz_N9,rz_N10,rz_N11,rz_N12,rz_N13,rz_N14,rz_N15];
const panels=[posXData,posYData,rotZData];
const yRanges=[[-0.195,0.28],[-0.328,0.575],[-0.823,0.844]];
const ySplit=[5,5,3];

// ---------- build ----------
const FONT='DejaVu Sans';
const expertColor='rgba(70,155,205,0.72)';
const noviceColor='rgba(70,70,195,0.62)';
const gridTops=[29,297,565];
const grids=gridTops.map(t=>({left:66,top:t,width:881,height:155,show:true,borderColor:'#cfcfcf',borderWidth:1,backgroundColor:'#fff'}));
const fmtY=v=>{const s=(Math.round(v*10)/10).toFixed(1);return s.replace('-','\u2212');};
const xAxes=gridTops.map((t,i)=>({type:'value',gridIndex:i,min:-52.8,max:1108.8,splitNumber:5,
  name:'Tiempo (muestras)',nameLocation:'middle',nameGap:22,nameTextStyle:{fontFamily:FONT,fontSize:12.5,color:'#3c3c3c'},
  axisLine:{show:false},axisTick:{show:false},
  axisLabel:{fontFamily:FONT,fontSize:11,color:'#3c3c3c',margin:7,showMinLabel:false,showMaxLabel:false,
    formatter:v=>xTickLabels.indexOf(Math.round(v))>=0&&Math.abs(v-Math.round(v))<1e-6?String(Math.round(v)):''},
  splitLine:{show:true,lineStyle:{color:'#e3e3e3',width:1}}}));
const yAxes=gridTops.map((t,i)=>({type:'value',gridIndex:i,min:yRanges[i][0],max:yRanges[i][1],splitNumber:ySplit[i],
  name:metricNames[i],nameLocation:'middle',nameGap:37,nameTextStyle:{fontFamily:FONT,fontSize:12.5,color:'#3c3c3c'},
  axisLine:{show:false},axisTick:{show:false},
  axisLabel:{fontFamily:FONT,fontSize:11,color:'#3c3c3c',margin:8,showMinLabel:false,showMaxLabel:false,formatter:fmtY},
  splitLine:{show:true,lineStyle:{color:'#e3e3e3',width:1}}}));
const series=[];
panels.forEach((pd,pi)=>{
  pd.forEach((arr,si)=>{
    const expert=si<5;
    series.push({type:'line',name:sessionNames[si],xAxisIndex:pi,yAxisIndex:pi,data:arr,
      symbol:'none',showSymbol:false,silent:true,animation:false,z:expert?3:2,
      lineStyle:{color:expert?expertColor:noviceColor,width:1.5,type:expert?'solid':[5,3]},
      itemStyle:{color:expert?expertColor:noviceColor}});
  });
});
const titles=gridTops.map((t,i)=>({text:'Trayectoria de '+metricNames[i]+' en el tiempo',left:506,top:t-23,textAlign:'center',
  textStyle:{fontFamily:FONT,fontSize:17,fontWeight:'bold',color:'#22507d'}}));
const chart=echarts.init(document.getElementById('c'),null,{renderer:'canvas'});
chart.setOption({
  animation:false,backgroundColor:'#fff',
  title:titles,grid:grids,xAxis:xAxes,yAxis:yAxes,series:series,
  legend:{data:sessionNames,orient:'vertical',left:996,top:34,padding:[6,5,6,4],itemWidth:26,itemHeight:10,itemGap:5.3,
    itemStyle:{opacity:0,color:'rgba(0,0,0,0)',borderWidth:0},
    backgroundColor:'#fff',borderColor:'#cccccc',borderWidth:1,borderRadius:2,
    shadowColor:'rgba(0,0,0,0.35)',shadowOffsetX:2,shadowOffsetY:2,shadowBlur:2,
    textStyle:{fontFamily:FONT,fontSize:10.5,color:'#333'},selectedMode:false}
});
</script></body></html>
